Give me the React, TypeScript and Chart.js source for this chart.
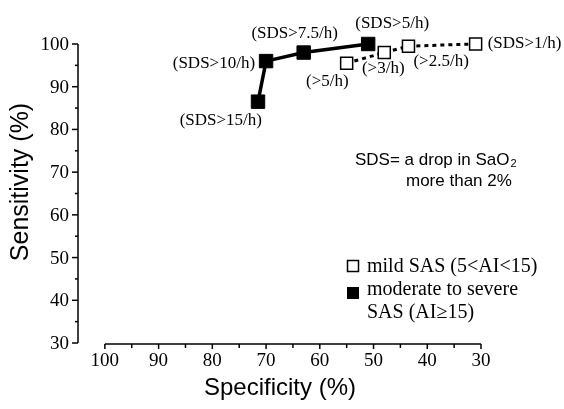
import React, { useEffect, useRef } from "react";
import { Chart, registerables } from "chart.js";

Chart.register(...registerables);

// ---- data ----
const severeSpecificity = [71.5, 70, 63, 51];
const severeSensitivity = [86.5, 96, 98, 100];
const severeLabels = ["(SDS>15/h)", "(SDS>10/h)", "(SDS>7.5/h)", "(SDS>5/h)"];

const mildSpecificity = [55, 48, 43.5, 31];
const mildSensitivity = [95.5, 98, 99.5, 100];
const mildLabels = ["(>5/h)", "(>3/h)", "(>2.5/h)", "(SDS>1/h)"];

const xTickValues = [100, 90, 80, 70, 60, 50, 40, 30];
const xMinorTicks = [95, 85, 75, 65, 55, 45, 35];
const yTickValues = [30, 40, 50, 60, 70, 80, 90, 100];
const yMinorTicks = [35, 45, 55, 65, 75, 85, 95];

const xTitle = "Specificity (%)";
const yTitle = "Sensitivity (%)";
const legendMild = ["mild SAS (5<AI<15)"];
const legendSevere = ["moderate to severe", "SAS (AI\u226515)"];
const noteLine1 = "SDS= a drop in SaO";
const noteSub = "2";
const noteLine2 = "more than 2%";

// ---- layout (label placement relative to the point) ----
type Place = { dx: number; dy: number; align: CanvasTextAlign };
const severePlace: Place[] = [
  { dx: 4, dy: 19, align: "right" },
  { dx: -11, dy: 2, align: "right" },
  { dx: -9, dy: -19, align: "center" },
  { dx: 24, dy: -20, align: "center" },
];
const mildPlace: Place[] = [
  { dx: 2, dy: 18, align: "right" },
  { dx: -1, dy: 16, align: "center" },
  { dx: 5, dy: 15, align: "left" },
  { dx: 12, dy: 0, align: "left" },
];

const SERIF = '"Liberation Serif", "Times New Roman", serif';
const SANS = '"Liberation Sans", Arial, sans-serif';

const overlay = {
  id: "overlay",
  afterDatasetsDraw(chart: any) {
    const ctx: CanvasRenderingContext2D = chart.ctx;
    const xs = chart.scales.x;
    const ys = chart.scales.y;
    const area = chart.chartArea;
    ctx.save();
    ctx.fillStyle = "#000";
    ctx.strokeStyle = "#000";
    ctx.lineWidth = 1.5;

    // y axis
    const yAxisX = area.left;
    ctx.beginPath();
    ctx.moveTo(yAxisX, ys.getPixelForValue(100));
    ctx.lineTo(yAxisX, ys.getPixelForValue(30));
    ctx.stroke();
    ctx.font = `19px ${SERIF}`;
    ctx.textAlign = "right";
    ctx.textBaseline = "middle";
    yTickValues.forEach((v) => {
      const py = ys.getPixelForValue(v);
      ctx.beginPath();
      ctx.moveTo(yAxisX, py);
      ctx.lineTo(yAxisX - 6, py);
      ctx.stroke();
      ctx.fillText(String(v), yAxisX - 9, py + 1);
    });
    yMinorTicks.forEach((v) => {
      const py = ys.getPixelForValue(v);
      ctx.beginPath();
      ctx.moveTo(yAxisX, py);
      ctx.lineTo(yAxisX - 3, py);
      ctx.stroke();
    });

    // x axis
    const xAxisY = ys.getPixelForValue(30) + 1;
    ctx.beginPath();
    ctx.moveTo(xs.getPixelForValue(100), xAxisY);
    ctx.lineTo(xs.getPixelForValue(30), xAxisY);
    ctx.stroke();
    ctx.textAlign = "center";
    ctx.textBaseline = "top";
    xTickValues.forEach((v) => {
      const px = xs.getPixelForValue(v);
      ctx.beginPath();
      ctx.moveTo(px, xAxisY);
      ctx.lineTo(px, xAxisY + 5);
      ctx.stroke();
      ctx.fillText(String(v), px, xAxisY + 8);
    });
    xMinorTicks.forEach((v) => {
      const px = xs.getPixelForValue(v);
      ctx.beginPath();
      ctx.moveTo(px, xAxisY);
      ctx.lineTo(px, xAxisY + 4);
      ctx.stroke();
    });

    // axis titles
    ctx.font = `24px ${SANS}`;
    ctx.textAlign = "center";
    ctx.textBaseline = "middle";
    ctx.fillText(xTitle, 280, 388);
    ctx.save();
    ctx.translate(21, 182);
    ctx.rotate(-Math.PI / 2);
    ctx.font = `25px ${SANS}`;
    ctx.fillText(yTitle, 0, 0);
    ctx.restore();

    // point labels
    ctx.font = `17px ${SERIF}`;
    ctx.textBaseline = "middle";
    const drawLabels = (dsIndex: number, labels: string[], place: Place[]) => {
      const meta = chart.getDatasetMeta(dsIndex);
      meta.data.forEach((pt: any, i: number) => {
        const p = place[i];
        ctx.textAlign = p.align;
        ctx.fillText(labels[i], pt.x + p.dx, pt.y + p.dy);
      });
    };
    drawLabels(0, severeLabels, severePlace);
    drawLabels(1, mildLabels, mildPlace);

    // note
    ctx.font = `17px ${SANS}`;
    ctx.textAlign = "left";
    ctx.fillText(noteLine1, 355, 160);
    const w1 = ctx.measureText(noteLine1).width;
    ctx.font = `11px ${SANS}`;
    ctx.fillText(noteSub, 355 + w1 + 1, 164);
    ctx.font = `17px ${SANS}`;
    ctx.fillText(noteLine2, 406, 181);

    // legend
    ctx.lineWidth = 1.5;
    ctx.strokeRect(347.5, 260.5, 11, 11);
    ctx.fillRect(347, 287, 12, 12);
    ctx.font = `20px ${SERIF}`;
    ctx.textAlign = "left";
    ctx.fillText(legendMild[0], 367, 267);
    ctx.fillText(legendSevere[0], 367, 290);
    ctx.fillText(legendSevere[1], 367, 313);

    ctx.restore();
  },
};

export default function App() {
  const ref = useRef<HTMLCanvasElement>(null);
  useEffect(() => {
    const canvas = ref.current!;
    const chart = new Chart(canvas, {
      type: "scatter",
      data: {
        datasets: [
          {
            label: "moderate to severe SAS (AI\u226515)",
            data: severeSpecificity.map((x, i) => ({ x, y: severeSensitivity[i] })),
            showLine: true,
            borderColor: "#000",
            borderWidth: 3.5,
            pointStyle: "rect",
            pointRadius: 9.5,
            pointBackgroundColor: "#000",
            pointBorderColor: "#000",
            pointBorderWidth: 1,
            clip: false,
          } as any,
          {
            label: "mild SAS (5<AI<15)",
            data: mildSpecificity.map((x, i) => ({ x, y: mildSensitivity[i] })),
            showLine: true,
            borderColor: "#000",
            borderWidth: 3,
            borderDash: [4, 4],
            pointStyle: "rect",
            pointRadius: 8.5,
            pointBackgroundColor: "#fff",
            pointBorderColor: "#000",
            pointBorderWidth: 1.5,
            clip: false,
          } as any,
        ],
      },
      options: {
        responsive: false,
        animation: false,
        layout: { padding: { left: 78, right: 83, top: 44, bottom: 66 } },
        plugins: { legend: { display: false }, tooltip: { enabled: false } },
        scales: {
          x: { type: "linear", reverse: true, min: 30, max: 105, display: false },
          y: { type: "linear", min: 30, max: 100, display: false },
        },
      },
      plugins: [overlay],
    });
    return () => chart.destroy();
  }, []);
  return (
    <div style={{ position: "fixed", left: 0, top: 0, width: 564, height: 409, background: "#fff" }}>
      <canvas ref={ref} width={564} height={409} style={{ width: 564, height: 409, display: "block" }} />
    </div>
  );
}
